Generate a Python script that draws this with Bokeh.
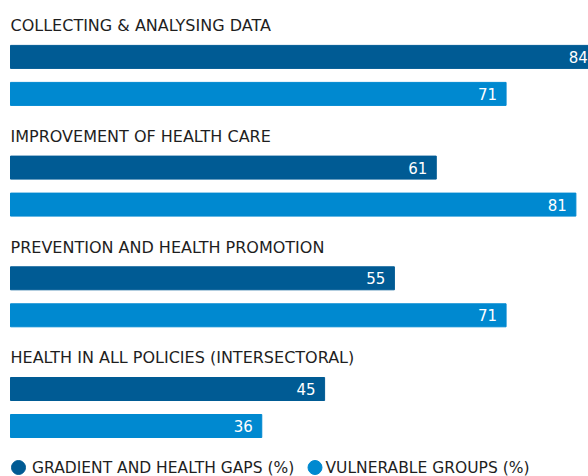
from bokeh.plotting import figure
from bokeh.models import Range1d, ColumnDataSource
from bokeh.core.properties import value
from bokeh.embed import file_html
from bokeh.resources import INLINE

categories = ["COLLECTING & ANALYSING DATA", "IMPROVEMENT OF HEALTH CARE",
              "PREVENTION AND HEALTH PROMOTION", "HEALTH IN ALL POLICIES (INTERSECTORAL)"]
gradient_gaps = [84, 61, 55, 45]
vulnerable_groups = [71, 81, 71, 36]
series_names = ["GRADIENT AND HEALTH GAPS (%)", "VULNERABLE GROUPS (%)"]
colors = ["#005b94", "#0089d0"]

FONT = "DejaVu Sans"
W, H = 588, 476
PX = 6.98          # pixels per percentage point
X0 = 10            # px from frame left to bar start
GROUP = 110.7      # px per category group
TITLE_Y = 25.3     # px from frame top to first title centre
BAR1_Y = 56.4
BAR2_Y = 93.4
BAR_H = 23

p = figure(width=W, height=H, output_backend="svg", toolbar_location=None,
           x_range=Range1d(-X0 / PX, (W - X0) / PX), y_range=Range1d(H, 0),
           min_border=0, outline_line_color=None)
p.axis.visible = False
p.grid.visible = False
p.background_fill_color = "white"
p.border_fill_color = "white"

n = len(categories)
title_y = [TITLE_Y + GROUP * i for i in range(n)]
y1 = [BAR1_Y + GROUP * i for i in range(n)]
y2 = [BAR2_Y + GROUP * i for i in range(n)]

p.text(x=[0] * n, y=title_y, text=categories, text_font=value(FONT),
       text_font_size="16px", text_color="#1e1e1e", text_baseline="middle",
       text_align="left")

for ys, vals, col in [(y1, gradient_gaps, colors[0]), (y2, vulnerable_groups, colors[1])]:
    src = ColumnDataSource(dict(y=ys, v=vals, lab=[str(v) for v in vals]))
    p.hbar(y="y", left=0, right="v", height=BAR_H, color=col, source=src)
    p.text(x="v", y="y", text="lab", source=src, x_offset=-9, text_align="right",
           text_baseline="middle", text_font=value(FONT), text_font_size="15px",
           text_color="white")

# legend
leg_y = 467
leg_marker_x = [(18 - X0) / PX, (314.5 - X0) / PX]
leg_text_x = [(31.5 - X0) / PX, (325 - X0) / PX]
p.scatter(x=leg_marker_x, y=[leg_y] * 2, size=14, color=colors, marker="circle")
p.text(x=leg_text_x, y=[leg_y] * 2, text=series_names, text_font=value(FONT),
       text_font_size="15.5px", text_color="#1e1e1e", text_baseline="middle",
       text_align="left")

open("out.html", "w").write(file_html(p, INLINE))
